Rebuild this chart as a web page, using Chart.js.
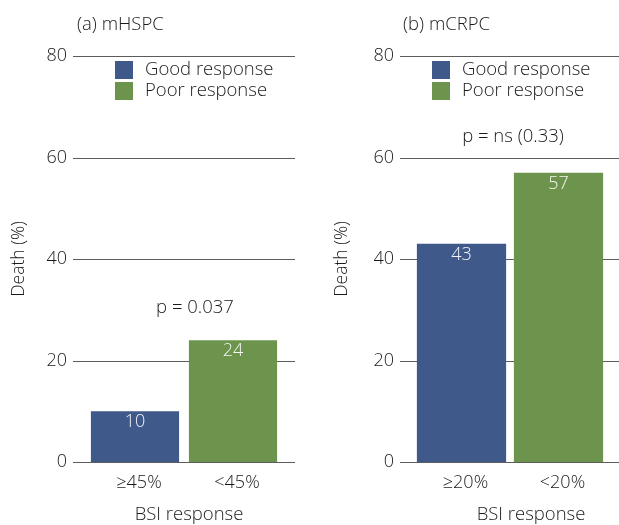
<!DOCTYPE html>
<html>
<head>
<meta charset="utf-8">
<script src="https://cdn.jsdelivr.net/npm/chart.js@4.4.1/dist/chart.umd.min.js"></script>
<style>
  body { margin: 0; background: #fff; }
  #wrap { position: relative; width: 619px; height: 525px; }
  canvas { position: absolute; top: 0; }
</style>
</head>
<body>
<div id="wrap">
  <canvas id="chartA" width="310" height="525" style="left:0"></canvas>
  <canvas id="chartB" width="309" height="525" style="left:310px"></canvas>
</div>
<script>
// data
var seriesNames = ["Good response", "Poor response"];
var hspcCategories = ["≥45%", "<45%"];
var hspcGood = [10, null];
var hspcPoor = [null, 24];
var crpcCategories = ["≥20%", "<20%"];
var crpcGood = [43, null];
var crpcPoor = [null, 57];
var yTicks = [0, 20, 40, 60, 80];
var panelTitles = ["(a) mHSPC", "(b) mCRPC"];
var pValues = ["p = 0.037", "p = ns (0.33)"];
var xTitle = "BSI response";
var yTitle = "Death (%)";

var BLUE = "#3f5a8a";
var GREEN = "#6d944c";
var FONT = "'Open Sans', 'Noto Sans', sans-serif";
var TEXT = "#1a1a1a";

// grid lines, legend, value labels, titles
var panelExtras = {
  id: "panelExtras",
  beforeDatasetsDraw: function(chart) {
    var ctx = chart.ctx, a = chart.chartArea, y = chart.scales.y;
    ctx.save();
    ctx.strokeStyle = "#5c5c5c";
    ctx.lineWidth = 1;
    y.ticks.forEach(function(t) {
      var py = Math.round(y.getPixelForValue(t.value)) + 0.5;
      ctx.beginPath();
      ctx.moveTo(a.left - 13, py);
      ctx.lineTo(a.right + 13, py);
      ctx.stroke();
    });
    ctx.restore();
  },
  afterDatasetsDraw: function(chart, args, o) {
    var ctx = chart.ctx, a = chart.chartArea;
    var topBar = a.bottom;
    ctx.save();
    ctx.font = "300 18px " + FONT;
    ctx.textAlign = "center";
    ctx.textBaseline = "middle";
    ctx.fillStyle = "rgba(255,255,255,0.92)";
    chart.data.datasets.forEach(function(ds, i) {
      chart.getDatasetMeta(i).data.forEach(function(el, j) {
        if (ds.data[j] == null) return;
        ctx.fillText(String(ds.data[j]), el.x, el.y + 11);
        if (el.y < topBar) topBar = el.y;
      });
    });

    ctx.fillStyle = TEXT;
    ctx.font = "300 18.5px " + FONT;
    ctx.fillText(o.pText, (a.left + a.right) / 2 + o.pDx, topBar - o.pAbove);
    ctx.fillText(xTitle, (a.left + a.right) / 2 + o.xtDx, 515);

    ctx.textAlign = "left";
    ctx.fillText(o.title, o.titleX, 25);

    // legend
    chart.data.datasets.forEach(function(ds, i) {
      var ly = a.top + 5 + i * 21;
      ctx.fillStyle = ds.backgroundColor;
      ctx.fillRect(a.left + o.legDx, ly, 18, 18);
      ctx.fillStyle = TEXT;
      ctx.fillText(ds.label, a.left + o.legDx + 30, ly + 9);
    });
    ctx.restore();
  }
};

function makePanel(id, cats, good, poor, padLeft, yWidth, padRight, barPct, extras) {
  return new Chart(document.getElementById(id), {
    type: "bar",
    data: {
      labels: cats,
      datasets: [
        { label: seriesNames[0], data: good, backgroundColor: BLUE },
        { label: seriesNames[1], data: poor, backgroundColor: GREEN }
      ]
    },
    options: {
      responsive: false,
      animation: false,
      layout: { padding: { left: padLeft, right: padRight, top: 56, bottom: 0 } },
      datasets: { bar: { skipNull: true, categoryPercentage: 1, barPercentage: barPct } },
      plugins: {
        legend: { display: false },
        tooltip: { enabled: false },
        panelExtras: extras
      },
      scales: {
        x: {
          grid: { display: false, drawTicks: false },
          border: { display: false },
          ticks: { color: TEXT, font: { family: FONT, size: 18, weight: 300 }, padding: 10, maxRotation: 0, labelOffset: 4 },
          afterFit: function(s) { s.height = 63; }
        },
        y: {
          min: 0, max: 80,
          afterBuildTicks: function(s) { s.ticks = yTicks.map(function(v) { return { value: v }; }); },
          grid: { display: false, drawTicks: false },
          border: { display: false },
          ticks: { color: TEXT, font: { family: FONT, size: 18, weight: 300 }, padding: 19 },
          title: { display: true, text: yTitle, color: TEXT, font: { family: FONT, size: 17.5, weight: 300 }, padding: { top: 9, bottom: 0 } },
          afterFit: function(s) { s.width = yWidth; }
        }
      }
    },
    plugins: [panelExtras]
  });
}

makePanel("chartA", hspcCategories, hspcGood, hspcPoor, 0, 86, 28, 0.9,
  { title: panelTitles[0], titleX: 77, pText: pValues[0], pDx: 11, pAbove: 32, xtDx: 5, legDx: 29 });
makePanel("chartB", crpcCategories, crpcGood, crpcPoor, 13, 90, 12, 0.92,
  { title: panelTitles[1], titleX: 93, pText: pValues[1], pDx: 3, pAbove: 36, xtDx: 21, legDx: 19 });
</script>
</body>
</html>
